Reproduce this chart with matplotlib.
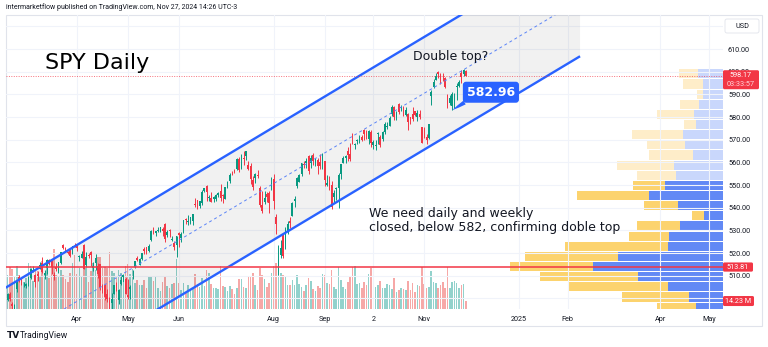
import numpy as np
import pandas as pd
import matplotlib
matplotlib.use("Agg")
import matplotlib.pyplot as plt
import matplotlib.transforms as mtransforms
from matplotlib.patches import FancyBboxPatch

# ---------------------------------------------------------------- data
# SPY daily bars, 2024-02-15 .. 2024-11-27 (one row per month)
OPENS = [
    499.3, 501.7, 497.7, 495.4, 504.0, 509.3, 508.3, 506.7, 505.3, 507.1,
    509.0, 512.0, 510.2, 510.6, 513.1, 515.5, 510.5, 513.5, 517.1, 516.9, 510.2, 514.0, 512.2, 515.8, 523.4, 522.1, 520.3, 521.2, 521.7, 523.2,
    523.8, 518.2, 517.7, 523.5, 514.5, 519.2, 520.5, 513.5, 515.7, 514.4, 515.1, 504.9, 506.1, 502.0, 499.4, 497.8, 501.8, 506.6, 499.2, 506.4, 509.5, 508.6,
    501.4, 504.2, 511.2, 513.7, 517.6, 514.9, 517.4, 521.8, 522.6, 521.1, 525.8, 529.9, 528.8, 529.6, 529.3, 530.6, 533.0, 527.9, 530.3, 525.7, 524.5, 523.6,
    529.0, 526.5, 530.8, 535.0, 533.7, 533.2, 534.1, 541.6, 543.2, 540.9, 542.1, 547.2, 549.4, 544.4, 544.3, 544.0, 543.7, 545.4, 547.2,
    545.6, 543.7, 548.7, 551.8, 555.4, 556.3, 557.1, 561.4, 557.6, 562.0, 562.9, 558.8, 558.5, 552.4, 553.0, 554.5, 548.9, 541.4, 542.3, 546.0, 546.3, 549.0,
    552.6, 535.8, 511.6, 519.2, 528.5, 523.9, 529.8, 534.2, 536.5, 542.9, 549.5, 551.4, 554.7, 559.2, 559.8, 562.6, 559.5, 563.2, 559.5, 561.2, 560.3, 560.8,
    560.5, 550.2, 550.9, 549.9, 544.7, 548.4, 548.7, 555.0, 559.7, 561.7, 565.1, 563.7, 571.2, 567.8, 569.3, 571.0, 571.1, 574.4, 573.4, 570.4,
    573.4, 567.7, 567.4, 572.4, 571.3, 570.4, 573.2, 575.8, 576.0, 581.2, 584.6, 579.8, 585.9, 584.1, 583.9, 581.1, 581.3, 580.0, 581.5, 582.6, 579.9, 581.3, 575.6,
    571.3, 571.2, 570.7, 589.2, 593.1, 596.2, 599.8, 598.7, 597.4, 597.3, 589.7, 586.2, 584.7, 590.4, 593.4, 593.7, 599.5, 598.8, 600.5,
]
HIGHS = [
    502.2, 502.9, 498.4, 497.4, 508.0, 510.1, 508.8, 507.2, 506.9, 509.7,
    513.3, 514.2, 510.7, 512.1, 515.9, 518.2, 512.4, 517.4, 517.3, 517.1, 511.7, 515.5, 516.0, 520.6, 524.1, 522.6, 520.9, 521.6, 523.2, 524.6,
    524.0, 519.0, 521.0, 523.9, 520.4, 520.2, 520.8, 516.2, 519.5, 515.8, 515.3, 506.5, 506.2, 504.1, 500.5, 502.4, 506.0, 507.4, 504.3, 509.9, 510.8, 509.6,
    508.7, 505.9, 512.6, 516.6, 518.6, 517.8, 520.2, 522.6, 522.7, 523.8, 530.1, 531.5, 529.5, 531.6, 531.5, 531.4, 533.1, 530.3, 530.5, 527.3, 525.2, 527.5,
    529.3, 529.2, 534.7, 535.4, 536.9, 536.0, 537.0, 544.1, 543.3, 542.8, 548.0, 548.6, 550.1, 545.7, 547.0, 545.2, 546.2, 546.9, 550.3,
    545.9, 549.0, 551.8, 555.1, 556.3, 557.2, 561.7, 562.3, 563.7, 564.8, 565.2, 560.5, 559.5, 554.1, 555.3, 556.7, 549.4, 547.5, 547.2, 547.0, 547.3, 553.5,
    554.9, 537.0, 523.6, 525.9, 529.0, 531.3, 534.0, 535.7, 542.3, 545.0, 553.4, 555.0, 559.6, 560.8, 562.1, 563.2, 563.1, 563.9, 562.1, 561.7, 563.7, 564.2,
    560.8, 554.4, 553.8, 551.6, 547.7, 549.2, 555.4, 559.4, 563.0, 563.1, 566.6, 568.7, 572.9, 568.5, 570.3, 571.9, 571.9, 574.7, 574.2, 574.4,
    574.1, 569.9, 569.8, 573.4, 572.0, 573.8, 577.7, 577.6, 580.3, 585.3, 584.9, 582.8, 586.1, 585.4, 584.8, 584.5, 581.9, 580.1, 584.5, 582.7, 582.9, 583.3, 575.6,
    575.6, 572.5, 576.7, 591.9, 596.7, 599.6, 600.2, 599.3, 599.2, 597.8, 590.2, 589.5, 591.0, 590.8, 595.1, 596.2, 600.9, 601.3, 600.9,
]
LOWS = [
    498.8, 498.8, 494.5, 493.0, 503.0, 507.1, 505.9, 504.9, 504.5, 505.4,
    508.6, 511.8, 504.9, 507.8, 512.8, 511.1, 508.5, 510.9, 514.5, 510.9, 508.1, 511.9, 511.1, 515.1, 521.9, 520.3, 519.6, 518.4, 519.5, 522.8,
    521.0, 516.5, 517.7, 512.8, 514.0, 517.8, 514.4, 512.1, 512.6, 509.1, 503.6, 502.2, 499.1, 498.6, 493.9, 495.4, 501.7, 503.1, 497.5, 505.7, 507.0, 502.0,
    499.9, 499.6, 508.6, 513.3, 516.4, 514.6, 516.7, 519.6, 519.7, 520.4, 525.4, 528.5, 527.3, 529.2, 529.1, 527.6, 524.7, 527.1, 527.1, 525.4, 521.3, 518.4,
    522.6, 525.0, 528.7, 532.7, 532.5, 532.6, 532.4, 540.3, 539.6, 539.9, 541.3, 546.7, 543.0, 543.0, 542.6, 542.4, 543.0, 544.5, 543.0,
    542.2, 543.7, 548.7, 551.1, 554.2, 555.5, 556.8, 555.8, 557.2, 559.0, 561.1, 556.6, 550.4, 547.9, 551.0, 553.3, 540.3, 537.5, 541.5, 542.4, 537.5, 547.6,
    539.4, 528.6, 510.3, 518.0, 517.9, 521.8, 528.6, 531.0, 536.2, 540.1, 548.9, 551.3, 553.9, 557.3, 557.4, 555.0, 557.6, 559.0, 558.3, 555.0, 557.2, 557.1,
    549.5, 549.5, 547.7, 539.4, 542.7, 543.4, 540.0, 552.7, 559.5, 559.9, 560.8, 560.8, 568.1, 565.8, 568.1, 568.4, 569.2, 569.9, 570.4, 568.1,
    566.6, 566.0, 565.5, 568.0, 566.6, 569.5, 572.5, 574.5, 575.9, 580.6, 578.5, 578.8, 581.2, 582.6, 580.4, 580.4, 574.1, 576.8, 578.1, 580.5, 578.4, 579.3, 568.4,
    570.6, 567.9, 570.5, 585.4, 593.0, 596.2, 597.0, 594.4, 596.0, 592.7, 583.9, 585.3, 582.96, 583.9, 587.4, 593.1, 595.2, 598.1, 597.9,
]
CLOSES = [
    502.0, 499.5, 496.8, 497.2, 507.5, 507.9, 505.9, 506.9, 506.3, 508.1,
    512.9, 512.3, 507.2, 509.8, 514.8, 511.7, 511.3, 516.8, 515.0, 513.7, 509.8, 512.9, 516.0, 520.5, 522.2, 521.2, 519.8, 518.8, 523.2, 523.1,
    522.2, 518.8, 519.4, 513.1, 518.4, 518.7, 519.3, 514.1, 518.0, 510.9, 504.5, 503.5, 500.6, 499.5, 495.2, 499.7, 505.7, 505.4, 503.5, 508.3, 510.1, 502.0,
    500.4, 505.0, 511.3, 516.6, 517.1, 517.2, 520.2, 520.8, 520.9, 523.3, 529.8, 528.7, 529.5, 530.1, 531.4, 529.8, 526.0, 529.4, 529.8, 526.1, 522.6, 527.4,
    527.8, 528.4, 534.7, 534.7, 534.0, 535.7, 537.0, 541.4, 542.5, 542.8, 547.1, 548.5, 547.0, 544.5, 542.7, 544.8, 545.5, 546.4, 544.2,
    545.3, 549.0, 551.5, 554.6, 555.3, 555.8, 561.3, 556.5, 560.0, 561.5, 564.9, 556.9, 552.7, 549.0, 554.7, 553.8, 541.2, 538.4, 544.4, 544.8, 542.0, 550.8,
    543.0, 532.9, 517.4, 522.2, 518.7, 530.7, 533.0, 533.3, 542.0, 543.8, 553.1, 554.3, 559.6, 558.7, 560.6, 556.2, 562.1, 560.8, 561.6, 558.3, 558.4, 563.7,
    552.1, 551.0, 549.6, 540.4, 546.4, 548.8, 554.4, 559.1, 562.0, 562.8, 563.1, 561.4, 571.0, 568.3, 569.7, 571.3, 570.0, 572.3, 571.5, 573.8,
    568.6, 568.9, 567.8, 573.0, 567.8, 573.2, 577.1, 576.1, 579.6, 584.3, 579.8, 582.3, 582.4, 584.6, 583.6, 583.3, 578.0, 579.2, 579.0, 580.8, 581.8, 580.0, 568.6,
    571.0, 569.8, 576.7, 591.0, 595.6, 598.2, 598.8, 596.9, 597.2, 593.4, 585.8, 588.2, 590.3, 590.5, 593.7, 595.5, 597.5, 600.7, 598.17,
]
# daily volume, millions of shares
VOLUMES = [
    61, 75, 71, 59, 76, 61, 50, 48, 56, 83,
    76, 50, 72, 68, 58, 86, 62, 73, 55, 80, 107, 60, 59, 69, 60, 53, 49, 65, 82, 96,
    62, 74, 59, 96, 74, 48, 68, 82, 70, 92, 92, 73, 75, 74, 102, 67, 64, 55, 69, 64, 47, 77,
    80, 62, 72, 47, 52, 42, 43, 52, 37, 57, 59, 50, 59, 37, 33, 48, 57, 41, 37, 45, 46, 90,
    46, 34, 47, 30, 43, 35, 36, 63, 45, 40, 55, 41, 70, 64, 45, 38, 38, 35, 76,
    41, 40, 32, 41, 36, 27, 38, 54, 53, 40, 38, 57, 57, 65, 43, 34, 74, 61, 53, 39, 46, 65,
    76, 82, 95, 64, 60, 58, 43, 42, 52, 42, 60, 44, 39, 33, 42, 56, 50, 35, 32, 41, 38, 62,
    61, 47, 45, 69, 40, 36, 75, 51, 39, 36, 49, 59, 75, 77, 44, 46, 38, 48, 42, 63,
    73, 38, 40, 42, 50, 37, 37, 44, 42, 36, 55, 30, 34, 37, 36, 34, 50, 34, 47, 30, 42, 41, 75,
    45, 38, 39, 68, 48, 46, 37, 43, 48, 38, 75, 38, 49, 50, 46, 37, 42, 45, 14.23,
]
FIRST_SESSION = "2024-02-15"
MARKET_HOLIDAYS = ["2024-02-19", "2024-03-29", "2024-05-27", "2024-06-19", "2024-07-04",
                   "2024-09-02", "2024-11-28", "2024-12-25", "2025-01-01", "2025-01-20",
                   "2025-02-17", "2025-04-18", "2025-05-26"]

# time-axis labels
TICK_DATES = ["2024-04-01", "2024-05-01", "2024-06-03", "2024-08-01", "2024-09-03",
              "2024-10-02", "2024-11-01", "2025-01-02", "2025-02-03", "2025-04-01", "2025-05-01"]
TICK_LABELS = ["Apr", "May", "Jun", "Aug", "Sep", "2", "Nov", "2025", "Feb", "Apr", "May"]
PRICE_TICKS = [500, 510, 520, 530, 540, 550, 560, 570, 580, 590, 600, 610, 620]
PRICE_LABELS = ["500.00", "510.00", "520.00", "530.00", "540.00", "550.00", "560.00",
                "570.00", "580.00", "590.00", "600.00", "610.00", ""]

# visible-range volume profile, 24 rows from the top of the range downwards (M shares)
PROFILE_HIGH, PROFILE_LOW = 601.3, 493.9
PROFILE_UP = [125, 100, 100, 120, 145, 135, 200, 190, 150, 245, 235, 290,
              370, 225, 95, 215, 270, 275, 525, 650, 425, 275, 170, 135]
PROFILE_DOWN = [95, 100, 30, 95, 185, 60, 255, 190, 220, 285, 195, 160,
                360, 170, 60, 215, 200, 515, 465, 415, 490, 495, 335, 195]
VALUE_AREA_HIGH = 552.1

# drawings
CHANNEL_X = [-8.0, 247.3]            # bar index of the channel end points
CHANNEL_UPPER = [500.3, 656.5]       # upper rail price at those points
CHANNEL_WIDTH = 49.7
SUPPORT_LEVEL = 513.81
LAST_PRICE = CLOSES[-1]
LOW_DATE = "2024-11-19"

# ---------------------------------------------------------------- layout
W, H = 768, 347
fig = plt.figure(figsize=(W / 100, H / 100), dpi=100)
fig.patch.set_facecolor("white")
PX = mtransforms.IdentityTransform()

INK = "#131722"
BLUE = "#2962ff"
RED = "#f23645"
UP, DOWN = "#089981", "#f23645"

pos = [6 / W, 1 - 309 / H, 717 / W, 294 / H]
ax = fig.add_axes(pos)
ax_vol = fig.add_axes(pos, sharex=ax)
ax_vp = fig.add_axes(pos, sharey=ax)
ax_vp.set_zorder(0)
ax_vol.set_zorder(1)
ax.set_zorder(2)
for a in (ax, ax_vol):
    a.patch.set_visible(False)
ax_vp.axis("off")
ax_vol.axis("off")

sessions = pd.bdate_range(FIRST_SESSION, "2025-06-30")
sessions = sessions[~sessions.isin(pd.to_datetime(MARKET_HOLIDAYS))]


def bar_index(day):
    return sessions.get_loc(pd.Timestamp(day))


o, h, l, c = map(np.asarray, (OPENS, HIGHS, LOWS, CLOSES))
v = np.asarray(VOLUMES)
x = np.arange(len(c))
rising = c >= o

ax.set_xlim(-0.67, -0.67 + 717 / 2.315)
ax.set_ylim(495.3, 625.0)
ax_vol.set_ylim(0, 525)

# volume overlay
vol_colors = np.where(rising, "#26a69a", "#ef5350")
ax_vol.bar(x, v, width=0.68, color=vol_colors, alpha=0.5, linewidth=0)

# candles
cc = np.where(rising, UP, DOWN)
ax.vlines(x, l, h, colors=cc, linewidth=0.7, zorder=3)
ax.bar(x, np.maximum(np.abs(c - o), 0.2), bottom=np.minimum(o, c), width=0.72,
       color=cc, linewidth=0, zorder=3)

# volume profile
n_rows = len(PROFILE_UP)
row_h = (PROFILE_HIGH - PROFILE_LOW) / n_rows
tops = PROFILE_HIGH - row_h * np.arange(n_rows)
centers = tops - row_h / 2
up_v, dn_v = np.asarray(PROFILE_UP), np.asarray(PROFILE_DOWN)
in_va = tops <= VALUE_AREA_HIGH + 1e-6
ax_vp.barh(centers, up_v, height=row_h * 0.9, left=0,
           color=np.where(in_va, "#6289f5", "#c9d7fc"), linewidth=0)
ax_vp.barh(centers, dn_v, height=row_h * 0.9, left=up_v,
           color=np.where(in_va, "#fcd36e", "#feedc9"), linewidth=0)
ax_vp.set_xlim((up_v + dn_v).max() / 0.297, 0)

# grid and scales
ax.set_xticks([bar_index(d) for d in TICK_DATES])
ax.set_xticklabels(TICK_LABELS)
ax.set_yticks(PRICE_TICKS)
ax.set_yticklabels(PRICE_LABELS)
ax.yaxis.tick_right()
ax.grid(True, color="#f0f3fa", linewidth=0.8, zorder=0)
ax.set_axisbelow(True)
ax.tick_params(axis="both", length=0, labelsize=5.2, colors=INK)
ax.tick_params(axis="x", pad=5)
ax.tick_params(axis="y", pad=3.6)
for lab in ax.get_xticklabels() + ax.get_yticklabels():
    lab.set_fontfamily("Roboto")
for s in ax.spines.values():
    s.set_visible(False)

# parallel channel
cx = np.asarray(CHANNEL_X)
upper = np.asarray(CHANNEL_UPPER)
lower = upper - CHANNEL_WIDTH
middle = upper - CHANNEL_WIDTH / 2
ax.fill_between(cx, lower, upper, color="black", alpha=0.055, linewidth=0, zorder=1)
ax.plot(cx, upper, color=BLUE, linewidth=1.7, zorder=4, solid_capstyle="butt")
ax.plot(cx, lower, color=BLUE, linewidth=1.7, zorder=4, solid_capstyle="butt")
ax.plot(cx, middle, color="#5b84f7", linewidth=0.7, dashes=(3, 3), zorder=4)

# horizontal levels
ax.axhline(SUPPORT_LEVEL, color=RED, linewidth=1.1, zorder=5)
ax.axhline(LAST_PRICE, color=RED, linewidth=0.7, linestyle=(0, (1, 1.5)), alpha=0.7, zorder=5)

# texts
ax.text(16.2, 603.8, "SPY Daily", fontsize=16, color="black", va="center", ha="left",
        family="DejaVu Sans", zorder=6)
ax.text(175.1, 606.9, "Double top?", fontsize=9, color=INK, va="center", ha="left",
        family="DejaVu Sans", zorder=6)
ax.text(156.1, 534.3, "We need daily and weekly\nclosed, below 582, confirming doble top",
        fontsize=9, color=INK, va="center", ha="left", family="DejaVu Sans",
        linespacing=1.15, zorder=6)

low_i = bar_index(LOW_DATE)
low_v = l[low_i]
ax.annotate(f"{low_v:.2f}", xy=(low_i, low_v), xytext=(28, 13), textcoords="offset points",
            fontsize=9, fontweight="bold", color="white", ha="center", va="center",
            family="DejaVu Sans", zorder=7,
            bbox=dict(boxstyle="round,pad=0.32,rounding_size=0.25", fc=BLUE, ec="none"),
            arrowprops=dict(arrowstyle="wedge,tail_width=0.35,shrink_factor=0.6",
                            fc=BLUE, ec="none", shrinkA=0, shrinkB=0, relpos=(0.12, 0.1)))


# ---------------------------------------------------------------- price-scale labels
def py(trans, value):
    return H - trans.transform((0, value))[1]


def label_box(x0, y0, x1, y1, fc, ec="none", r=2.0):
    fig.add_artist(FancyBboxPatch((x0, H - y1), x1 - x0, y1 - y0,
                                  boxstyle=f"round,pad=0,rounding_size={r}",
                                  transform=PX, fc=fc, ec=ec, lw=0.6, zorder=8))


def label_text(xp, yp, s, **kw):
    fig.text(xp, H - yp, s, transform=PX, zorder=9, va="center", family="Roboto", **kw)


label_box(725, 19, 759, 33, "white", ec="#e0e3eb")
label_text(742, 26, "USD", fontsize=5.2, color=INK, ha="center")

yl = py(ax.transData, LAST_PRICE)
label_box(723, yl - 5.6, 759, yl + 13.4, RED, r=1.5)
label_text(741, yl, f"{LAST_PRICE:.2f}", fontsize=5.2, color="white", ha="center")
label_text(741, yl + 8.6, "03:33:57", fontsize=5.2, color="#ffd6da", ha="center")

ys = py(ax.transData, SUPPORT_LEVEL)
label_box(723, ys - 4.6, 753, ys + 4.6, RED, r=1.5)
label_text(738, ys, f"{SUPPORT_LEVEL:.2f}", fontsize=5.2, color="white", ha="center")

yv = py(ax_vol.transData, v[-1])
label_box(723, yv - 5, 754, yv + 5, RED, r=1.5)
label_text(738.5, yv, f"{v[-1]:.2f} M", fontsize=5.2, color="white", ha="center")

# ---------------------------------------------------------------- frame and captions
fig.add_artist(FancyBboxPatch((6, H - 326), 756, 311, boxstyle="square,pad=0",
                              transform=PX, fc="none", ec="#e0e3eb", lw=0.8, zorder=1))
fig.text(6, H - 7, "intermarketflow published on TradingView.com, Nov 27, 2024 14:26 UTC-3",
         transform=PX, fontsize=5.0, color=INK, va="center", family="Roboto")
fig.text(7, H - 336, "TV", transform=PX, fontsize=6.5, fontweight="bold", color=INK,
         va="center", family="DejaVu Sans")
fig.text(20, H - 336, "TradingView", transform=PX, fontsize=6.2, color=INK,
         va="center", family="Roboto")

fig.savefig("out.png", dpi=100)
